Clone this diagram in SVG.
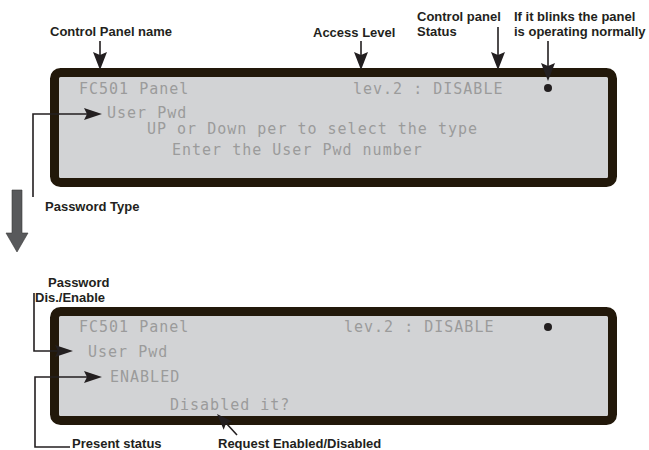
<svg xmlns="http://www.w3.org/2000/svg" width="649" height="450" viewBox="0 0 649 450">
<style>
.panel{fill:#d2d3d5;stroke:#22180a;stroke-width:9}
.lcd{font-family:"DejaVu Sans Mono","Liberation Mono",monospace;font-size:15px;letter-spacing:1px;fill:#9b9b9b}
.lbl{font-family:"Liberation Sans",Arial,sans-serif;font-size:13px;font-weight:bold;fill:#231f20}
.con{fill:none;stroke:#231f20;stroke-width:1.6}
.head{fill:#231f20}
.dot{fill:#231f20}
</style>
<g id="panel1">
<rect class="panel" x="54.5" y="72.5" width="558" height="110" rx="6"/>
<text class="lcd" x="79" y="94">FC501 Panel</text>
<text class="lcd" x="353" y="94">lev.2 : DISABLE</text>
<circle class="dot" cx="548" cy="88" r="4"/>
<text class="lcd" x="107" y="118">User Pwd</text>
<text class="lcd" x="147" y="134">UP or Down per to select the type</text>
<text class="lcd" x="172" y="155">Enter the User Pwd number</text>
</g>
<g id="panel2">
<rect class="panel" x="54.5" y="311.5" width="558" height="109" rx="6"/>
<text class="lcd" x="79" y="332">FC501 Panel</text>
<text class="lcd" x="344" y="332">lev.2 : DISABLE</text>
<circle class="dot" cx="548" cy="327" r="4"/>
<text class="lcd" x="88" y="357">User Pwd</text>
<text class="lcd" x="110" y="382">ENABLED</text>
<text class="lcd" x="170" y="410">Disabled it?</text>
</g>
<g id="labels">
<text class="lbl" x="50" y="36">Control Panel name</text>
<text class="lbl" x="313" y="37">Access Level</text>
<text class="lbl" x="417" y="21">Control panel</text>
<text class="lbl" x="417" y="36">Status</text>
<text class="lbl" x="514" y="21">If it blinks the panel</text>
<text class="lbl" x="514" y="36">is operating normally</text>
<text class="lbl" x="45" y="211">Password Type</text>
<text class="lbl" x="48" y="287">Password</text>
<text class="lbl" x="35" y="302">Dis./Enable</text>
<text class="lbl" x="72" y="448">Present status</text>
<text class="lbl" x="218" y="448">Request Enabled/Disabled</text>
</g>
<g id="bigarrow">
<polygon points="12,190 22,190 22,233 28,233 17,252 6,233 12,233" fill="#58595b" stroke="#3a3a3a" stroke-width="0.6"/>
</g>
<g id="connectors">
<line class="con" x1="100" y1="41" x2="100" y2="56"/>
<polygon class="head" points="93,52 100,70 107,52 100,55"/>
<line class="con" x1="361" y1="41" x2="361" y2="56"/>
<polygon class="head" points="354,52 361,70 368,52 361,55"/>
<line class="con" x1="498" y1="27" x2="498" y2="56"/>
<polygon class="head" points="491,52 498,70 505,52 498,55"/>
<line class="con" x1="548" y1="41" x2="548" y2="67"/>
<polygon class="head" points="541,63 548,81 555,63 548,66"/>
<polyline class="con" points="33,197 33,114 87,114"/>
<polygon class="head" points="84,108 102,114 84,120 87,114"/>
<polyline class="con" points="34,293 34,351 58,351"/>
<polygon class="head" points="55,345 73,351 55,357 58,351"/>
<polyline class="con" points="70,447 35,447 35,377 87,377"/>
<polygon class="head" points="84,371 102,377 84,383 87,377"/>
<line class="con" x1="237" y1="435" x2="226" y2="423"/>
<polygon class="head" points="217,414 232.3,421.5 226,423.4 223.7,429.7"/>
</g>
</svg>
